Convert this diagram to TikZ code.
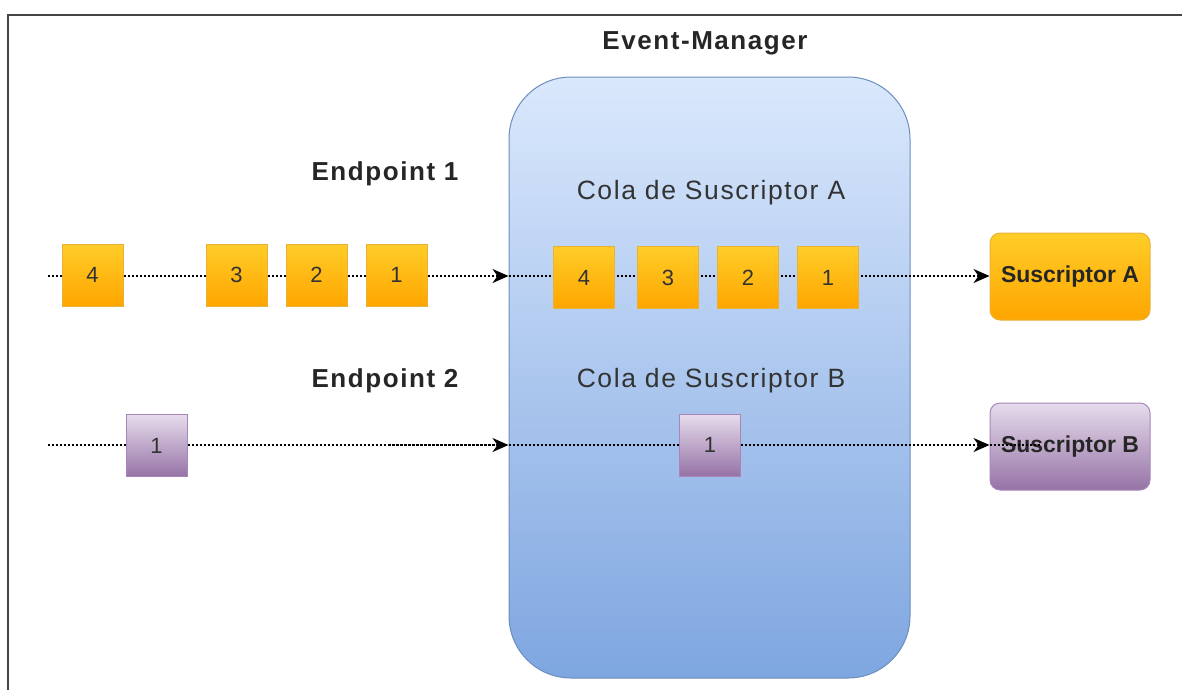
\documentclass[tikz,border=0pt]{standalone}
\usepackage{fontspec}
\setmainfont{Liberation Sans}
\newfontfamily\spacedfont[LetterSpace=6]{Liberation Sans}
\usetikzlibrary{arrows.meta}

\definecolor{ytop}{HTML}{FFCD28}
\definecolor{ybot}{HTML}{FFA500}
\definecolor{yedge}{HTML}{E8B23A}
\definecolor{ptop}{HTML}{E6DCEC}
\definecolor{pbot}{HTML}{9673A6}
\definecolor{pedge}{HTML}{A887B8}
\definecolor{btop}{HTML}{DAE8FC}
\definecolor{bbot}{HTML}{7EA6E0}
\definecolor{bedge}{HTML}{6C8EBF}
\definecolor{frame}{HTML}{444444}

\begin{document}
\begin{tikzpicture}[x=1pt,y=-1pt,
  msgbase/.style={minimum width=61pt, minimum height=62pt, inner sep=0pt,
    line width=1pt, font=\fontsize{22}{22}\selectfont, text=black!80},
  msgy/.style={msgbase, draw=yedge, top color=ytop, bottom color=ybot},
  msgp/.style={msgbase, draw=pedge, top color=ptop, bottom color=pbot},
  subs/.style={minimum width=160pt, minimum height=87pt, inner sep=0pt,
    rounded corners=10pt, line width=1pt,
    font=\bfseries\fontsize{23}{23}\selectfont, text=black!85},
  subsy/.style={subs, draw=yedge, top color=ytop, bottom color=ybot},
  subsp/.style={subs, draw=pedge, top color=ptop, bottom color=pbot},
  container/.style={draw=bedge, line width=1pt, top color=btop, bottom color=bbot,
    rounded corners=62pt, minimum width=401pt, minimum height=601pt, inner sep=0pt},
  flow/.style={line width=1.8pt, dash pattern=on 2pt off 2pt, black},
  flowarrow/.style={flow, -{Stealth[length=16pt,width=14pt,inset=5pt]}},
  label/.style={font=\spacedfont\bfseries\fontsize{26}{26}\selectfont, text=black!85},
  qlabel/.style={font=\spacedfont\fontsize{26.5}{26.5}\selectfont, text=black!80}
]
\useasboundingbox (0,0) rectangle (1182,689);
\clip (0,0) rectangle (1182,689);
\fill[white] (0,0) rectangle (1182,689);

% outer frame, running past the right and bottom edges
\draw[line width=2.5pt, frame] (8,15) rectangle (1220,730);

% event manager
\node[container] (em) at (709.5,377.5) {};
\node[label] (emt) at (705,43) {Event-Manager};

% labels
\node[label] (ep1) at (385,174) {Endpoint 1};
\node[label] (ep2) at (385,381) {Endpoint 2};
\node[qlabel] (qa) at (711,193) {Cola de Suscriptor A};
\node[qlabel] (qb) at (711,381) {Cola de Suscriptor B};

% subscribers
\node[subsy] (sa) at (1070,276.5) {Suscriptor A};
\node[subsp] (sb) at (1070,446.5) {Suscriptor B};

% flow lines
\coordinate (in1) at (48,276);
\coordinate (in2) at (48,445);
\coordinate (in2b) at (387,445);
\draw[flowarrow] (in1) -- (in1 -| em.west);
\draw[flow] (in1 -| em.west) -- ++(4,0);
\draw[flowarrow] (in1 -| em.west) -- (sa.west |- in1);
\draw[flowarrow] (in2) -- (in2 -| em.west);
\draw[flow, dash phase=2pt] (in2b) -- ([xshift=-8pt]in2 -| em.west);
\draw[flowarrow] (in2 -| em.west) -- (sb.west |- in2);

% messages waiting at endpoint 1
\node[msgy] (e4) at (92.5,275) {4};
\node[msgy] (e3) at (236.5,275) {3};
\node[msgy] (e2) at (316.5,275) {2};
\node[msgy] (e1) at (396.5,275) {1};

% messages in queue A
\node[msgy] (a4) at (584,277.5) {4};
\node[msgy] (a3) at (668,277.5) {3};
\node[msgy] (a2) at (748,277.5) {2};
\node[msgy] (a1) at (828,277.5) {1};

% messages for subscriber B
\node[msgp] (b0) at (156.5,445.5) {1};
\node[msgp] (b1) at (710,445) {1};

% line end running over subscriber B
\coordinate (sbend) at (1041,445);
\draw[flow] (sb.west |- in2) -- (sbend);
\end{tikzpicture}
\end{document}
